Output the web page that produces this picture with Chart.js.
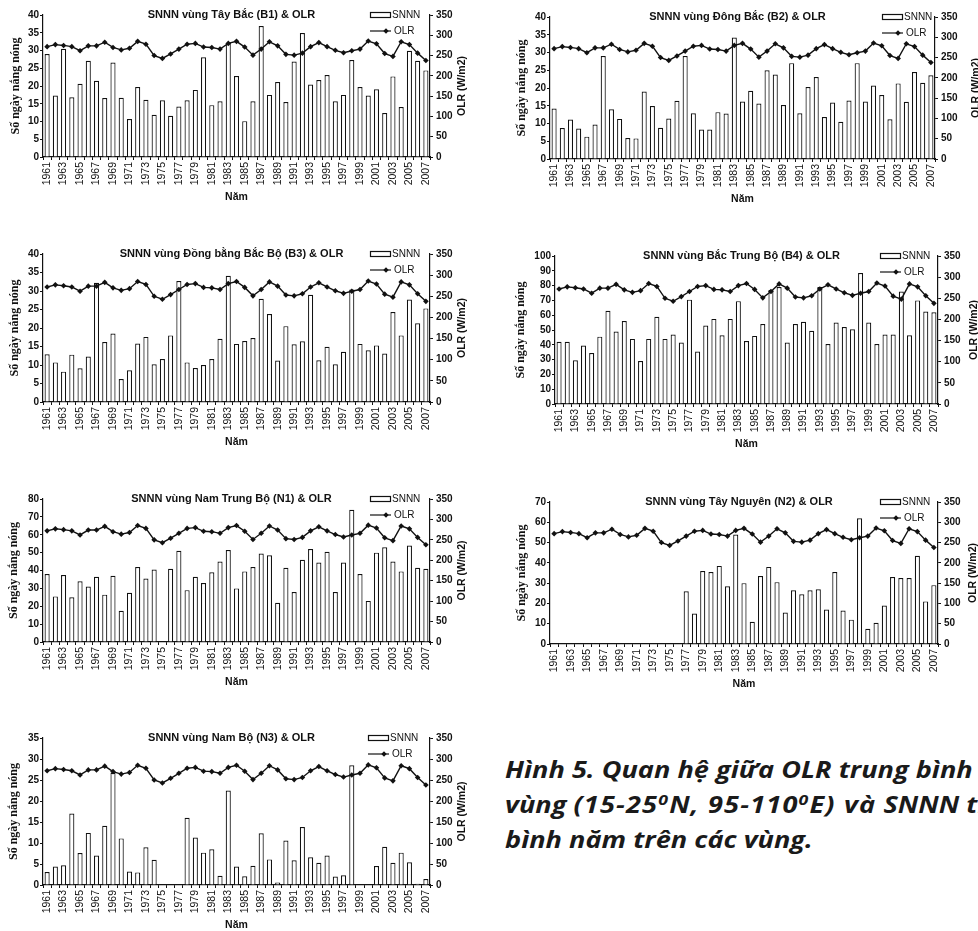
<!DOCTYPE html>
<html>
<head>
<meta charset="utf-8">
<script src="https://cdn.jsdelivr.net/npm/chart.js"></script>
<style>
  html, body { margin: 0; padding: 0; background: #fff; width: 978px; height: 931px; overflow: hidden; }
  canvas { position: absolute; }
  .caption {
    position: absolute; left: 505px; top: 752px;
    font-family: 'Open Sans', 'Noto Sans', sans-serif;
    font-weight: 700; font-style: italic; font-size: 23px; line-height: 35px;
    color: #1a1a1a; white-space: nowrap;
    transform: scaleX(1.18); transform-origin: 0 0;
  }
  .caption sup { font-size: 15px; line-height: 0; vertical-align: 8px; }
  .caption .wide { letter-spacing: 1px; }
</style>
</head>
<body>
<div class="caption">Hình 5. Quan hệ giữa OLR trung bình<br>vùng <span class="wide">(15-25<sup>0</sup>N, 95-110<sup>0</sup>E) và</span> SNNN trung<br>bình năm trên các vùng.</div>
<script>
// nam 1961-2007
const years = ['1961','1962','1963','1964','1965','1966','1967','1968','1969','1970',
  '1971','1972','1973','1974','1975','1976','1977','1978','1979','1980',
  '1981','1982','1983','1984','1985','1986','1987','1988','1989','1990',
  '1991','1992','1993','1994','1995','1996','1997','1998','1999','2000',
  '2001','2002','2003','2004','2005','2006','2007'];

// OLR trung binh vung (W/m2), chung cho cac bieu do
const olr = [272,277,275,272,262,274,274,283,270,264,
  268,285,278,250,243,254,266,278,280,271,
  270,266,280,285,271,251,266,284,274,253,
  251,256,272,282,272,263,257,262,266,286,
  279,255,248,284,277,256,238];

// so ngay nang nong tung vung
const snnnB1 = [29.0,17.3,30.5,16.8,20.6,27.1,21.5,16.6,26.6,16.7,
  10.7,19.7,16.1,11.9,16.0,11.6,14.2,16.0,18.9,28.1,
  14.6,15.7,32.2,22.8,10.1,15.7,36.9,17.5,21.1,15.5,
  26.9,34.9,20.4,21.7,23.1,15.7,17.5,27.3,19.7,17.3,
  19.1,12.4,22.7,14.1,29.9,27.1,24.4];
const snnnB2 = [14.2,8.7,11.1,8.6,6.3,9.7,29.0,14.0,11.3,5.9,
  5.8,19.0,14.9,8.8,11.4,16.4,29.0,12.9,8.3,8.3,
  13.2,12.8,34.2,16.2,19.2,15.6,25.0,23.8,15.2,27.0,
  12.9,20.3,23.1,11.8,15.9,10.5,16.5,27.0,16.2,20.7,
  18.0,11.2,21.3,16.1,24.5,21.5,23.6];
const snnnB3 = [12.9,10.7,8.2,12.8,9.1,12.3,32.2,16.2,18.5,6.2,
  8.6,15.8,17.6,10.2,11.6,18.0,32.7,10.7,9.2,10.0,
  11.6,17.1,34.1,15.7,16.5,17.3,27.9,23.8,11.2,20.5,
  15.6,16.4,29.0,11.3,14.9,10.2,13.6,30.4,15.7,14.0,
  15.3,13.1,24.3,18.0,27.7,21.3,25.3];
const snnnB4 = [42,42,29.5,39.5,34.5,45.5,63,49,56,44,
  29,44,59,44,47,41.5,70.5,35.5,53,57.5,
  46.5,57.5,69.5,42.5,46,54,77,79,41.5,54,
  55.5,49.5,79,40.5,55,52,50.5,88.5,55,40.5,
  47,47,76,46.5,70,62.5,62];
const snnnN1 = [38,25.5,37.5,25,34,31,36.5,26.5,37,17.5,
  27.5,42,35.5,40.5,null,41,51,29,36.5,33,
  39,45,51.5,30,39.5,42,49.5,48.5,22,41.5,
  28,46,52,44.5,50.5,28,44.5,74,38,23,
  50,53,45,39.5,54,41.5,41];
const snnnN2 = [null,null,null,null,null,null,null,null,null,null,
  null,null,null,null,null,null,26,15,36,35.5,
  38.5,28.5,54,30,11,33.5,38,30.5,15.5,26.5,
  24.5,26.5,27,17,35.5,16.5,12,62,7.5,10.5,
  19,33,32.5,32.5,43.5,21,29];
const snnnN3 = [3.1,4.4,4.7,17,7.6,12.4,7,14.1,26.7,11.1,
  3.2,3,9,6,null,null,null,16,11.3,7.7,
  8.5,2.2,22.5,4.4,2.1,4.6,12.3,6.1,0.6,10.6,
  5.9,13.8,6.6,5.3,7,2,2.3,28.5,null,null,
  4.5,9.1,5.3,7.7,5.4,0.3,1.4];

const ink = '#111';
const sans = "'Liberation Sans', Arial, sans-serif";
Chart.defaults.font.family = sans;
Chart.defaults.color = ink;

// tieu de, chu giai va ten truc phai
const decor = {
  id: 'decor',
  afterDraw(chart, args, o) {
    const { ctx, chartArea: a } = chart;
    const ds = chart.data.datasets;
    ctx.save();
    ctx.fillStyle = ink;
    ctx.strokeStyle = ink;
    ctx.textBaseline = 'middle';

    ctx.font = 'bold 11px ' + sans;
    ctx.textAlign = 'center';
    ctx.fillText(o.title, (a.left + a.right) / 2 - 5, a.top);

    const lx = a.right - o.legendOffset;
    ctx.lineWidth = 1.2;
    ctx.fillStyle = '#fff';
    ctx.fillRect(lx, a.top - 2.5, 20, 5);
    ctx.strokeRect(lx + 0.5, a.top - 2.5, 20, 5);
    ctx.beginPath();
    ctx.moveTo(lx, a.top + 16);
    ctx.lineTo(lx + 21, a.top + 16);
    ctx.stroke();
    ctx.fillStyle = ink;
    ctx.beginPath();
    ctx.moveTo(lx + 16, a.top + 13.3);
    ctx.lineTo(lx + 18.7, a.top + 16);
    ctx.lineTo(lx + 16, a.top + 18.7);
    ctx.lineTo(lx + 13.3, a.top + 16);
    ctx.fill();

    ctx.font = '10px ' + sans;
    ctx.textAlign = 'left';
    ctx.fillText(ds[1].label, lx + 22, a.top);
    ctx.fillText(ds[0].label, lx + 24, a.top + 16);

    ctx.translate(a.right + o.rightGap, (a.top + a.bottom) / 2);
    ctx.rotate(-Math.PI / 2);
    ctx.font = 'bold 10.5px ' + sans;
    ctx.textAlign = 'center';
    ctx.fillText('OLR (W/m2)', 0, 0);
    ctx.restore();
  }
};

function panel(title, values, leftMax, leftStep, box, plot, legendOffset, rightGap) {
  const canvas = document.createElement('canvas');
  canvas.width = box.w;
  canvas.height = plot.b + 46 - box.y;
  canvas.style.left = box.x + 'px';
  canvas.style.top = box.y + 'px';
  document.body.appendChild(canvas);

  const yw = plot.l - box.x;
  const y1w = box.x + box.w - plot.r;
  const xh = 46;

  new Chart(canvas.getContext('2d'), {
    type: 'bar',
    data: {
      labels: years,
      datasets: [{
        type: 'line',
        label: 'OLR',
        data: olr,
        yAxisID: 'y1',
        borderColor: ink,
        borderWidth: 1.4,
        pointStyle: 'rectRot',
        pointRadius: 2.8,
        pointBackgroundColor: ink,
        pointBorderColor: ink,
        pointBorderWidth: 0,
        order: 0
      }, {
        label: 'SNNN',
        data: values,
        yAxisID: 'y',
        backgroundColor: '#fff',
        borderColor: ink,
        borderWidth: 1.2,
        barPercentage: 0.62,
        categoryPercentage: 1,
        order: 1
      }]
    },
    options: {
      responsive: false,
      animation: false,
      devicePixelRatio: 1,
      layout: { padding: { top: plot.t - box.y, left: 0, right: 0, bottom: 0 } },
      plugins: {
        legend: { display: false },
        tooltip: { enabled: false },
        decor: { title: title, legendOffset: legendOffset, rightGap: rightGap }
      },
      scales: {
        x: {
          ticks: {
            autoSkip: false, minRotation: 90, maxRotation: 90, padding: 2,
            font: { size: 10.5 },
            callback(v, i) { return i % 2 === 0 ? this.getLabelForValue(v) : ''; }
          },
          grid: { drawOnChartArea: false, tickLength: 3, color: ink },
          border: { color: ink, width: 1.2 },
          title: { display: true, text: 'Năm', padding: 0, font: { size: 10.5, weight: 'bold' } },
          afterFit(s) { s.height = xh; }
        },
        y: {
          position: 'left',
          min: 0, max: leftMax,
          ticks: { stepSize: leftStep, autoSkip: false, padding: 1, font: { size: 10, weight: 'bold' } },
          grid: { drawOnChartArea: false, tickLength: 3, color: ink },
          border: { color: ink, width: 1.2 },
          title: {
            display: true, text: 'Số ngày nắng nóng', padding: 0,
            font: { family: "'Liberation Serif', 'DejaVu Serif', serif", size: 12, weight: 'bold' }
          },
          afterFit(s) { s.width = yw; }
        },
        y1: {
          position: 'right',
          min: 0, max: 350,
          ticks: { stepSize: 50, autoSkip: false, padding: 3, font: { size: 10, weight: 'bold' } },
          grid: { drawOnChartArea: false, tickLength: 3, color: ink },
          border: { color: ink, width: 1.2 },
          afterFit(s) { s.width = y1w; }
        }
      }
    },
    plugins: [decor]
  });
}

panel('SNNN vùng Tây Bắc (B1) & OLR', snnnB1, 40, 5,
  { x: 9, y: 0, w: 469 }, { l: 43, t: 15, r: 430, b: 157 }, 60, 32);
panel('SNNN vùng Đông Bắc (B2) & OLR', snnnB2, 40, 5,
  { x: 515, y: 0, w: 463 }, { l: 550, t: 17, r: 935, b: 159 }, 53, 41);
panel('SNNN vùng Đồng bằng Bắc Bộ (B3) & OLR', snnnB3, 40, 5,
  { x: 8, y: 225, w: 470 }, { l: 43, t: 254, r: 430, b: 402 }, 60, 32);
panel('SNNN vùng Bắc Trung Bộ (B4) & OLR', snnnB4, 100, 10,
  { x: 514, y: 225, w: 464 }, { l: 555, t: 256, r: 938, b: 404 }, 58, 36);
panel('SNNN vùng Nam Trung Bộ (N1) & OLR', snnnN1, 80, 10,
  { x: 7, y: 455, w: 471 }, { l: 43, t: 499, r: 430, b: 642 }, 60, 32);
panel('SNNN vùng Tây Nguyên (N2) & OLR', snnnN2, 70, 10,
  { x: 515, y: 455, w: 463 }, { l: 550, t: 502, r: 938, b: 644 }, 58, 35);
panel('SNNN vùng Nam Bộ (N3) & OLR', snnnN3, 35, 5,
  { x: 7, y: 690, w: 471 }, { l: 43, t: 738, r: 430, b: 885 }, 62, 32);
</script>
</body>
</html>
